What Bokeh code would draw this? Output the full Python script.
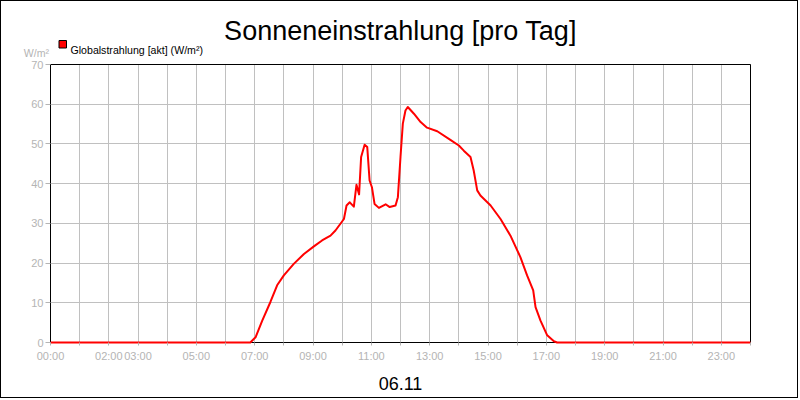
from bokeh.plotting import figure
from bokeh.models import Range1d, FixedTicker, Label, BoxAnnotation, ColumnDataSource
from bokeh.embed import file_html
from bokeh.resources import INLINE

# --- data ---
times = [0, 6.85, 7.03, 7.26, 7.54, 7.77, 8.0, 8.34, 8.69, 9.03, 9.31, 9.6, 9.77,
         10.06, 10.15, 10.26, 10.4, 10.49, 10.58, 10.65, 10.77, 10.86, 10.94, 11.02,
         11.11, 11.26, 11.49, 11.63, 11.83, 11.91, 12.0, 12.08, 12.17, 12.25, 12.46,
         12.69, 12.91, 13.26, 13.71, 14.0, 14.17, 14.4, 14.51, 14.63, 14.74, 15.09,
         15.43, 15.77, 16.11, 16.34, 16.55, 16.63, 16.8, 17.03, 17.26, 17.37, 24]
values = [0, 0, 1.3, 5.5, 10.2, 14.4, 16.9, 19.8, 22.3, 24.2, 25.7, 26.9, 28.2,
          31.1, 34.5, 35.3, 34.2, 39.7, 37.3, 46.7, 49.8, 49.2, 40.8, 39.1,
          34.9, 33.9, 34.8, 34.1, 34.5, 36.6, 46.7, 55.1, 58.4, 59.3, 57.6,
          55.5, 54.1, 53.2, 51.0, 49.6, 48.3, 46.7, 43.3, 38.3, 37.0, 34.5,
          31.1, 26.9, 21.5, 16.9, 13.1, 8.9, 5.5, 1.8, 0.3, 0, 0]
x_ticks = list(range(0, 25))
x_labels = {0: "00:00", 2: "02:00", 3: "03:00", 5: "05:00", 7: "07:00", 9: "09:00",
            11: "11:00", 13: "13:00", 15: "15:00", 17: "17:00", 19: "19:00",
            21: "21:00", 23: "23:00"}
y_ticks = [0, 10, 20, 30, 40, 50, 60, 70]
x_min, x_max = 0, 24
y_min, y_max = 0, 70
title_text = "Sonneneinstrahlung [pro Tag]"
date_text = "06.11"
series_name = "Globalstrahlung [akt] (W/m²)"
unit_text = "W/m²"

FONT = "Liberation Sans"
GRAY = "#b4b4b4"

# --- layout constants (canvas pixels) ---
W, H = 798, 398
PLOT_L, PLOT_R, PLOT_T, PLOT_B = 49, 749, 63, 341
ppx = (PLOT_R - PLOT_L) / (x_max - x_min)
ppy = (PLOT_B - PLOT_T) / (y_max - y_min)
xr = Range1d(x_min - PLOT_L / ppx, x_max + (W - PLOT_R) / ppx)
yr = Range1d(y_min - (H - PLOT_B) / ppy, y_max + PLOT_T / ppy)

def dx(px):   # page x -> data
    return x_min + (px - 1 - PLOT_L) / ppx

def dy(py):   # page y -> data
    return y_min + (PLOT_B - (py - 1)) / ppy

p = figure(width=W, height=H, output_backend="svg", toolbar_location=None,
           x_range=xr, y_range=yr, title=None,
           min_border_left=0, min_border_right=0, min_border_top=0,
           min_border_bottom=0, background_fill_color="white",
           border_fill_color="white")
p.styles = {"border": "1px solid black"}
p.outline_line_color = None

p.xaxis.ticker = FixedTicker(ticks=x_ticks)
p.xaxis.major_label_overrides = {t: x_labels.get(t, "") for t in x_ticks}
p.yaxis.ticker = FixedTicker(ticks=y_ticks)
p.xaxis.fixed_location = y_min
p.yaxis.fixed_location = x_min
p.xaxis.bounds = (x_min, x_max)
p.yaxis.bounds = (y_min, y_max)
for ax in (p.xaxis, p.yaxis):
    ax.axis_line_color = None
    ax.major_tick_line_color = GRAY
    ax.minor_tick_line_color = None
    ax.major_tick_in = 0
    ax.major_label_text_color = GRAY
    ax.major_label_text_font = FONT
    ax.major_label_text_font_size = "11px"
p.xaxis.major_tick_out = 3
p.xaxis.major_label_standoff = 4
p.yaxis.major_tick_out = 5
p.yaxis.major_label_standoff = 2

p.xgrid.ticker = FixedTicker(ticks=x_ticks)
p.ygrid.ticker = FixedTicker(ticks=y_ticks)
p.xgrid.bounds = (x_min, x_max)
p.xgrid.cross_bounds = (y_min, y_max)
p.ygrid.bounds = (y_min, y_max)
p.ygrid.cross_bounds = (x_min, x_max)
p.grid.grid_line_color = "#c0c0c0"
p.grid.grid_line_width = 1

# plot box
p.add_layout(BoxAnnotation(left=x_min, right=x_max, bottom=y_min, top=y_max,
                           fill_color=None, line_color="black", line_width=1,
                           line_alpha=1.0, level="underlay"))

src = ColumnDataSource(dict(t=times, v=values))
p.line("t", "v", source=src, line_color="#ff0000", line_width=2, line_join="round")

# texts
p.add_layout(Label(x=(x_min + x_max) / 2, y=dy(30), text=title_text,
                   text_align="center", text_baseline="alphabetic", text_font=FONT,
                   text_font_size="27px", text_color="black"))
p.add_layout(Label(x=(x_min + x_max) / 2, y=dy(383), text=date_text,
                   text_align="center", text_baseline="alphabetic", text_font=FONT,
                   text_font_size="18px", text_color="black"))
p.add_layout(Label(x=dx(70), y=dy(49), text=series_name, text_align="left",
                   text_baseline="alphabetic", text_font=FONT,
                   text_font_size="10.6px", text_color="black"))
p.add_layout(Label(x=dx(48.5), y=dy(52.5), text=unit_text, text_align="right",
                   text_baseline="alphabetic", text_font=FONT,
                   text_font_size="10.6px", text_color=GRAY))
p.add_layout(BoxAnnotation(left=dx(58.5), right=dx(66), top=dy(40), bottom=dy(47.5),
                           fill_color="#ff0000", fill_alpha=1.0,
                           line_color="black", line_width=1, line_alpha=1.0))

open("out.html", "w").write(file_html(p, INLINE))
